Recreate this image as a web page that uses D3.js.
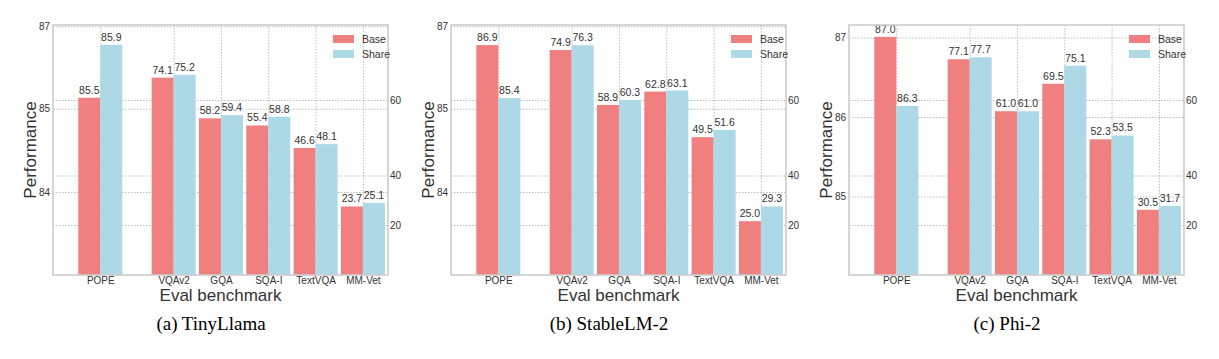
<!DOCTYPE html>
<html>
<head>
<meta charset="utf-8">
<script src="https://cdn.jsdelivr.net/npm/d3@7"></script>
<style>
  html, body { margin: 0; padding: 0; background: #ffffff; }
  svg { display: block; }
  .tick text { font-family: "Liberation Sans", Arial, sans-serif; }
</style>
</head>
<body>
<svg id="chart" width="1219" height="359"></svg>
<script>
// ---------------- data ----------------
const benchmarks = ["POPE", "VQAv2", "GQA", "SQA-I", "TextVQA", "MM-Vet"];
const seriesNames = ["Base", "Share"];
const panelTitles = ["(a) TinyLlama", "(b) StableLM-2", "(c) Phi-2"];

const baseTinyLlama  = [85.5, 74.1, 58.2, 55.4, 46.6, 23.7];
const shareTinyLlama = [85.9, 75.2, 59.4, 58.8, 48.1, 25.1];
const baseStableLM   = [86.9, 74.9, 58.9, 62.8, 49.5, 25.0];
const shareStableLM  = [85.4, 76.3, 60.3, 63.1, 51.6, 29.3];
const basePhi        = [87.0, 77.1, 61.0, 69.5, 52.3, 30.5];
const sharePhi       = [86.3, 77.7, 61.0, 75.1, 53.5, 31.7];

const leftTickLabels  = [[87, 85, 84], [87, 85, 84], [87, 86, 85]];
const rightTickLabels = [60, 40, 20];

const xLabel = "Eval benchmark";
const yLabel = "Performance";

// ---------------- layout / styles ----------------
const colors = ["#F08080", "#ADD8E6"];
const panelLeft = [53, 451, 849];
const boxTop = 25, boxW = 335, boxH = 250;
const xDomain = [-2.55, 4.53];
const popeGap = 1.55;      // POPE sits apart from the other benchmarks
const barW = 0.465;
// value domains of the bars (left: POPE, right: the rest)
const leftDomains  = [[84.16, 86.05], [80.39, 87.47], [84.59, 87.12]];
const rightDomains = [[-3.1, 94.7], [9.3, 82.2], [10.3, 87.7]];
// where the printed axis ticks sit (fraction of the box height from top)
const leftTickFrac  = [[0.005, 0.335, 0.668], [0.005, 0.335, 0.668], [0.05, 0.368, 0.686]];
const rightTickFrac = [0.30, 0.602, 0.80];

const panels = [
  {base: baseTinyLlama, share: shareTinyLlama},
  {base: baseStableLM,  share: shareStableLM},
  {base: basePhi,       share: sharePhi}
];

const svg = d3.select("#chart");
svg.append("rect").attr("width", 1219).attr("height", 359).attr("fill", "#fff");

const fmt = d3.format(".1f");
const sans = '"Liberation Sans", Arial, sans-serif';
const textColor = "#333333";

panels.forEach((p, pi) => {
  const g = svg.append("g").attr("transform", `translate(${panelLeft[pi]},${boxTop})`);
  const x = d3.scaleLinear().domain(xDomain).range([0, boxW]);
  const xPos = benchmarks.map((b, i) => i === 0 ? -popeGap : i - 1);

  const yL = d3.scaleLinear().domain(leftDomains[pi]).range([boxH, 0]);
  const yR = d3.scaleLinear().domain(rightDomains[pi]).range([boxH, 0]);

  const axL = d3.scaleLinear().domain(leftTickLabels[pi]).range(leftTickFrac[pi].map(f => f * boxH));
  const axR = d3.scaleLinear().domain(rightTickLabels).range(rightTickFrac.map(f => f * boxH));

  // grid
  const gridStyle = sel => {
    sel.select(".domain").remove();
    sel.selectAll(".tick line").attr("stroke", "#b5b5b5").attr("stroke-width", 0.9)
      .attr("stroke-dasharray", "1.5,1.5");
  };
  g.append("g").call(d3.axisBottom(x).tickValues(xPos).tickSize(boxH).tickFormat(""))
    .call(gridStyle);
  g.append("g").call(d3.axisLeft(axL).tickValues(leftTickLabels[pi]).tickSize(-boxW).tickFormat(""))
    .call(gridStyle);
  g.append("g").call(d3.axisLeft(axR).tickValues(rightTickLabels).tickSize(-boxW).tickFormat(""))
    .call(gridStyle);

  // bars
  const rows = benchmarks.map((b, i) => ({i, b, x: xPos[i], vals: [p.base[i], p.share[i]]}));
  rows.forEach(r => {
    const ys = r.i === 0 ? yL : yR;
    r.vals.forEach((v, si) => {
      const x0 = si === 0 ? x(r.x - barW) : x(r.x);
      const w = x(r.x + barW) - x(r.x);
      g.append("rect")
        .attr("x", x0).attr("y", ys(v))
        .attr("width", w).attr("height", boxH - ys(v))
        .attr("fill", colors[si]);
      g.append("text")
        .attr("x", x0 + w / 2).attr("y", ys(v) - 4)
        .attr("text-anchor", "middle")
        .attr("font-family", sans).attr("font-size", 10.5)
        .attr("fill", textColor)
        .text(fmt(v));
    });
  });

  // frame
  g.append("rect").attr("x", 0).attr("y", 0).attr("width", boxW).attr("height", boxH)
    .attr("fill", "none").attr("stroke", "#cccccc").attr("stroke-width", 1.6);

  // axes tick labels
  const tickStyle = sel => {
    sel.select(".domain").remove();
    sel.selectAll(".tick line").remove();
    sel.selectAll(".tick text").attr("fill", textColor).attr("font-size", 10);
  };
  g.append("g").call(d3.axisLeft(axL).tickValues(leftTickLabels[pi]).tickSize(0).tickPadding(3)
    .tickFormat(d3.format("d"))).call(tickStyle);
  g.append("g").attr("transform", `translate(${boxW},0)`)
    .call(d3.axisRight(axR).tickValues(rightTickLabels).tickSize(0).tickPadding(2)
    .tickFormat(d3.format("d"))).call(tickStyle);
  g.append("g").attr("transform", `translate(0,${boxH})`)
    .call(d3.axisBottom(x).tickValues(xPos).tickSize(0).tickPadding(2)
    .tickFormat((d, i) => benchmarks[i])).call(tickStyle);

  // axis titles
  g.append("text").attr("x", boxW / 2).attr("y", boxH + 26)
    .attr("text-anchor", "middle").attr("font-family", sans).attr("font-size", 17)
    .attr("fill", textColor).text(xLabel);
  g.append("text").attr("transform", `translate(${-17},${boxH / 2}) rotate(-90)`)
    .attr("text-anchor", "middle").attr("font-family", sans).attr("font-size", 17)
    .attr("fill", textColor).text(yLabel);

  // legend
  const lg = g.append("g").attr("transform", `translate(${boxW - 55},10)`);
  seriesNames.forEach((s, si) => {
    lg.append("rect").attr("x", 0).attr("y", si * 15).attr("width", 21).attr("height", 8)
      .attr("fill", colors[si]);
    lg.append("text").attr("x", 29).attr("y", si * 15 + 8)
      .attr("font-family", sans).attr("font-size", 10.5).attr("fill", textColor).text(s);
  });

  // caption
  g.append("text").attr("x", 158).attr("y", 305)
    .attr("text-anchor", "middle")
    .attr("font-family", '"Liberation Serif", "Times New Roman", serif')
    .attr("font-size", 19).attr("fill", "#000").text(panelTitles[pi]);
});
</script>
</body>
</html>
